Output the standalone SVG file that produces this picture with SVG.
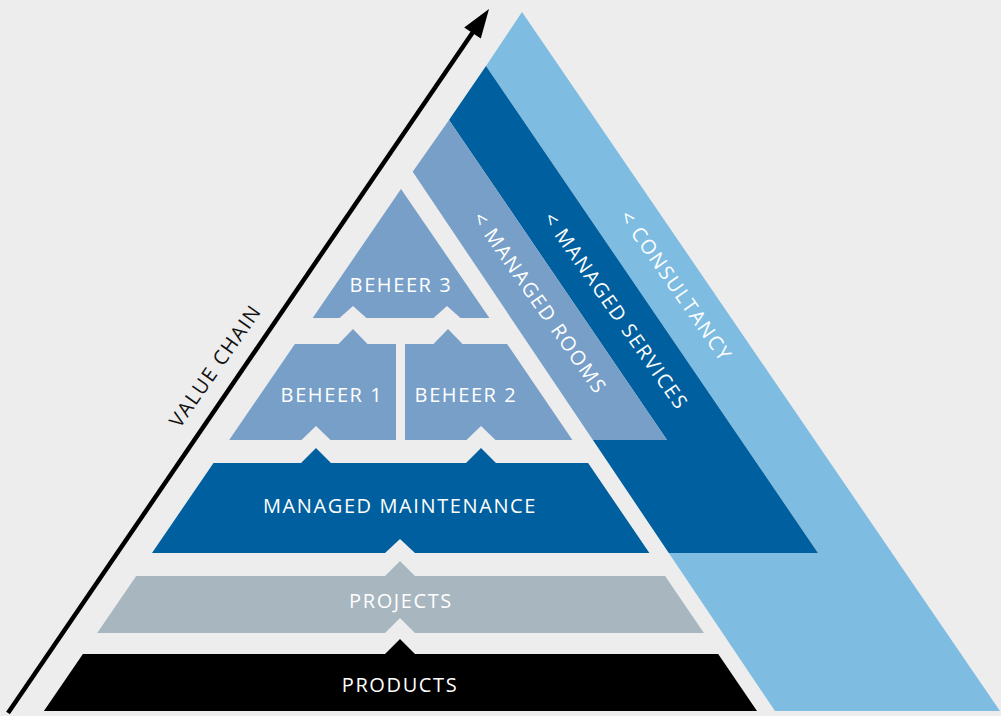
<svg xmlns="http://www.w3.org/2000/svg" width="1001" height="716" viewBox="0 0 1001 716">
  <defs>
    <style>
      .lbl { font-family: "Open Sans", "Liberation Sans", sans-serif; font-size: 20px; fill: #ffffff; letter-spacing: 1.6px; text-anchor: middle; }
      .dark { fill: #111111; }
      .lightblue { fill: #7fbce2; }
      .darkblue { fill: #005f9e; }
      .midblue { fill: #789fc8; }
      .grey { fill: #a8b6bf; }
      .black { fill: #000000; }
    </style>
  </defs>
  <rect x="0" y="0" width="1001" height="716" fill="#ededed"/>

  <g id="consultancy">
    <polygon class="lightblue" points="522,12 1000,711 775,711 668.8,553 818,553 486,66"/>
    <text class="lbl" transform="translate(670,290) rotate(55)">&lt; CONSULTANCY</text>
  </g>
  <g id="managed-services">
    <polygon class="darkblue" points="486,66 818,553 668.8,553 592.9,440 667,440 449,120"/>
    <text class="lbl" transform="translate(610,315) rotate(55)">&lt; MANAGED SERVICES</text>
  </g>
  <g id="managed-rooms">
    <polygon class="midblue" points="449,120 667,440 592.9,440 412.7,171.8"/>
    <text class="lbl" transform="translate(534,307) rotate(55)">&lt; MANAGED ROOMS</text>
  </g>

  <g id="beheer-3">
    <polygon class="midblue" points="401,189 489.4,318 460.5,318 447,306 433.5,318 366.5,318 353,306 339.5,318 312.7,318"/>
    <text class="lbl" x="401" y="292">BEHEER 3</text>
  </g>
  <g id="beheer-1">
    <polygon class="midblue" points="294.9,344 338.5,344 353,329 367.5,344 396,344 396,440 330.5,440 316,426 301.5,440 229.2,440"/>
    <text class="lbl" x="332" y="402">BEHEER 1</text>
  </g>
  <g id="beheer-2">
    <polygon class="midblue" points="405,344 433.5,344 448,329 462.5,344 507.1,344 572.4,440 495.5,440 481,426 466.5,440 405,440"/>
    <text class="lbl" x="466" y="402">BEHEER 2</text>
  </g>
  <g id="managed-maintenance">
    <polygon class="darkblue" points="213.5,463 301,463 316,448 331,463 466,463 481,448 496,463 588.1,463 649.4,553 415,553 400,539 385,553 152,553"/>
    <text class="lbl" x="400" y="513">MANAGED MAINTENANCE</text>
  </g>
  <g id="projects">
    <polygon class="grey" points="136.2,576 385,576 400,561 415,576 665.1,576 703.9,633 415,633 400,618 385,633 97.2,633"/>
    <text class="lbl" x="401" y="608">PROJECTS</text>
  </g>
  <g id="products">
    <polygon class="black" points="82.9,654 385,654 400,639 415,654 718.2,654 757,711 43.9,711"/>
    <text class="lbl" x="400" y="692">PRODUCTS</text>
  </g>

  <g id="connectors">
    <line x1="8" y1="713" x2="473" y2="32" stroke="#000000" stroke-width="4.5"/>
    <polygon class="black" points="489,9 480.8,38.6 464.2,27.4"/>
    <text class="lbl dark" transform="translate(221,370) rotate(-55)">VALUE CHAIN</text>
  </g>
</svg>
